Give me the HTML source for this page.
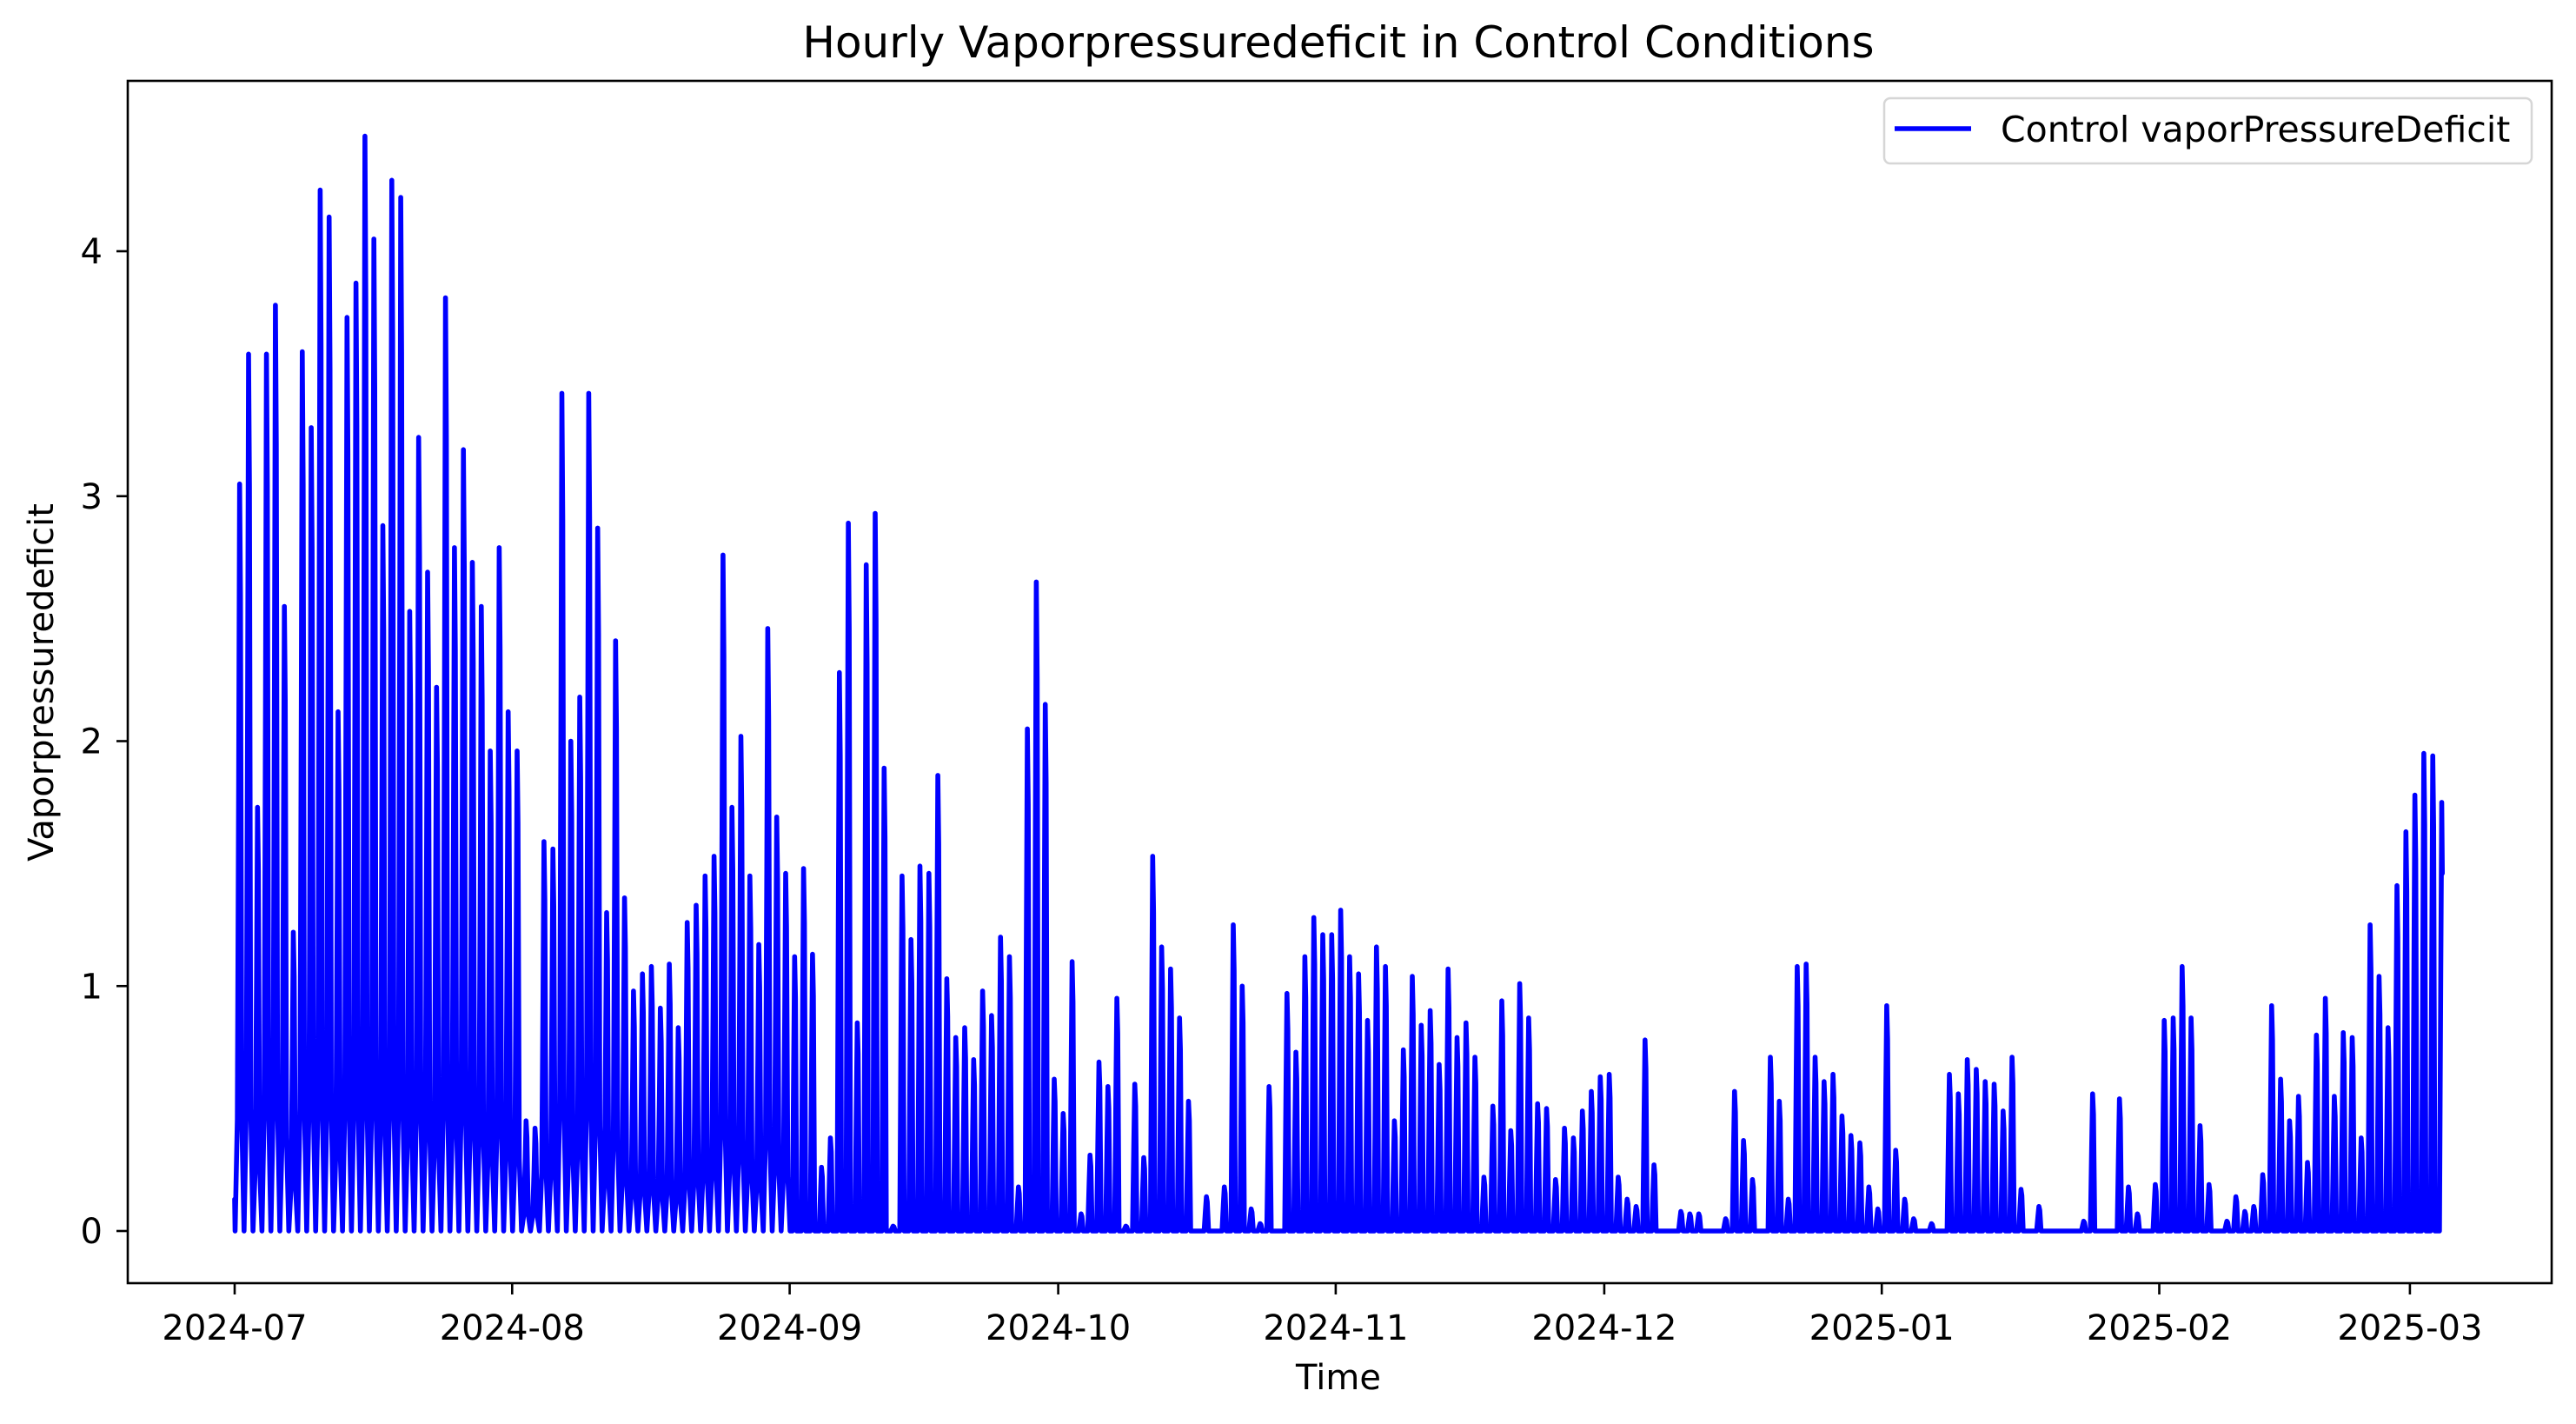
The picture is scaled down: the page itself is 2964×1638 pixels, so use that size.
<!DOCTYPE html>
<html><head><meta charset="utf-8"><style>
html,body{margin:0;padding:0;background:#fff;}
svg{display:block;font-family:"DejaVu Sans","Liberation Sans",sans-serif;}
</style></head><body>
<svg id="chart" width="2964" height="1638" viewBox="0 0 2964 1638">
<rect x="0" y="0" width="2964" height="1638" fill="#fff"/>
<text x="1540" y="66" font-size="50" text-anchor="middle">Hourly Vaporpressuredeficit in Control Conditions</text>
<g id="plot"></g>
<rect x="147" y="93" width="2789" height="1383" fill="none" stroke="#000" stroke-width="2.6"/>
<g id="xticks"></g>
<g id="yticks"></g>
<text x="1540" y="1598" font-size="40" text-anchor="middle">Time</text>
<text x="0" y="0" font-size="40" text-anchor="middle" transform="translate(61,785) rotate(-90)">Vaporpressuredeficit</text>
<g>
<rect x="2168" y="113" width="745" height="75" rx="7" fill="#fff" fill-opacity="0.8" stroke="#d6d6d6" stroke-width="2.5"/>
<line x1="2180" y1="148" x2="2268" y2="148" stroke="#0000ff" stroke-width="5.6"/>
<text x="2302" y="163" font-size="41">Control vaporPressureDeficit</text>
</g>
</svg>
<script>
const monthLabels = ["2024-07","2024-08","2024-09","2024-10","2024-11","2024-12","2025-01","2025-02","2025-03"];
const monthDayOffsets = [0,31,62,92,123,153,184,215,243];
const yTickValues = [0,1,2,3,4];
const julPeaks = [3.05,3.58,1.73,3.58,3.78,2.55,1.22,3.59,3.28,4.25,4.14,2.12,3.73,3.87,4.47,4.05,2.88,4.29,4.22,2.53,3.24,2.69,2.22,3.81,2.79,3.19,2.73,2.55,1.96,2.79,2.12];
const augPeaks = [1.96,0.45,0.42,1.59,1.56,3.42,2.00,2.18,3.42,2.87,1.30,2.41,1.36,0.98,1.05,1.08,0.91,1.09,0.83,1.26,1.33,1.45,1.53,2.76,1.73,2.02,1.45,1.17,2.46,1.69,1.46];
const sepPeaks = [1.12,1.48,1.13,0.26,0.38,2.28,2.89,0.85,2.72,2.93,1.89,0.02,1.45,1.19,1.49,1.46,1.86,1.03,0.79,0.83,0.70,0.98,0.88,1.20,1.12,0.18,2.05,2.65,2.15,0.62];
const octPeaks = [0.48,1.10,0.07,0.31,0.69,0.59,0.95,0.02,0.60,0.30,1.53,1.16,1.07,0.87,0.53,0,0.14,0,0.18,1.25,1.00,0.09,0.03,0.59,0,0.97,0.73,1.12,1.28];
const novPeaks = [1.21,1.21,1.31,1.12,1.05,0.86,1.16,1.08,0.45,0.74,1.04,0.84,0.90,0.68,1.07,0.79,0.85,0.71,0.22,0.51,0.94,0.41,1.01,0.87,0.52,0.50,0.21,0.42,0.38,0.49];
const decPeaks = [0.57,0.63,0.64,0.22,0.13,0.10,0.78,0.27,0,0,0.08,0.07,0.07,0,0,0.05,0.57,0.37,0.21,0,0.71,0.53,0.13,1.08,1.09,0.71,0.61,0.64];
const janPeaks = [0.47,0.39,0.36,0.18,0.09,0.92,0.33,0.13,0.05,0,0.03,0,0.64,0.56,0.70,0.66,0.61,0.60,0.49,0.71,0.17,0,0.10,0,0,0,0,0.04,0.56,0,0];
const febPeaks = [0.54,0.18,0.07,0,0.19,0.86,0.87,1.08,0.87,0.43,0.19,0,0.04,0.14,0.08,0.10,0.23,0.92,0.62,0.45,0.55,0.28,0.80,0.95,0.55,0.81,0.79,0.38];
const marPeaks = [1.25,1.04,0.83,1.41,1.63,1.78,1.95,1.94,1.75];
const lastValue = 1.46;

const NS='http://www.w3.org/2000/svg';
const X0=270, PXDAY=10.30, Y0=1416, PXUNIT=281.75;
function xScale(day){return X0+day*PXDAY;}
function yScale(v){return Y0-v*PXUNIT;}

const peaks=[].concat(julPeaks,augPeaks,sepPeaks,octPeaks,novPeaks,decPeaks,janPeaks,febPeaks,marPeaks);
const pts=[];
pts.push([xScale(0),yScale(0.13)]);
peaks.forEach((p,d)=>{
  const base = d<62 ? Math.min(0.5,p*0.15) : 0;
  pts.push([xScale(d+0.05),yScale(0)]);
  pts.push([xScale(d+0.3),yScale(base)]);
  pts.push([xScale(d+0.45),yScale(p*0.6)]);
  pts.push([xScale(d+0.55),yScale(p)]);
  if(d<peaks.length-1){
    pts.push([xScale(d+0.65),yScale(p*0.85)]);
    pts.push([xScale(d+0.8),yScale(base)]);
  } else {
    pts.push([xScale(d+0.62),yScale(lastValue)]);
  }
});
const line=document.createElementNS(NS,'polyline');
line.setAttribute('points',pts.map(p=>p[0].toFixed(1)+','+p[1].toFixed(1)).join(' '));
line.setAttribute('fill','none');line.setAttribute('stroke','#0000ff');
line.setAttribute('stroke-width','5.6');line.setAttribute('stroke-linejoin','round');line.setAttribute('stroke-linecap','round');


document.getElementById('plot').appendChild(line);

const xg=document.getElementById('xticks');
monthLabels.forEach((lab,i)=>{
  const x=xScale(monthDayOffsets[i]);
  const t=document.createElementNS(NS,'line');
  t.setAttribute('x1',x);t.setAttribute('x2',x);t.setAttribute('y1',1476);t.setAttribute('y2',1489);
  t.setAttribute('stroke','#000');t.setAttribute('stroke-width','2.6');
  
  
  xg.appendChild(t);
  const tx=document.createElementNS(NS,'text');
  tx.setAttribute('x',x);tx.setAttribute('y',1541);tx.setAttribute('font-size','40');tx.setAttribute('text-anchor','middle');
  tx.textContent=lab;
  
  
  xg.appendChild(tx);
});
const yg=document.getElementById('yticks');
yTickValues.forEach(v=>{
  const y=yScale(v);
  const t=document.createElementNS(NS,'line');
  t.setAttribute('x1',134);t.setAttribute('x2',147);t.setAttribute('y1',y);t.setAttribute('y2',y);
  t.setAttribute('stroke','#000');t.setAttribute('stroke-width','2.6');
  
  
  yg.appendChild(t);
  const tx=document.createElementNS(NS,'text');
  tx.setAttribute('x',118);tx.setAttribute('y',y+14);tx.setAttribute('font-size','40');tx.setAttribute('text-anchor','end');
  tx.textContent=String(v);
  
  
  yg.appendChild(tx);
});
</script>
</body></html>
